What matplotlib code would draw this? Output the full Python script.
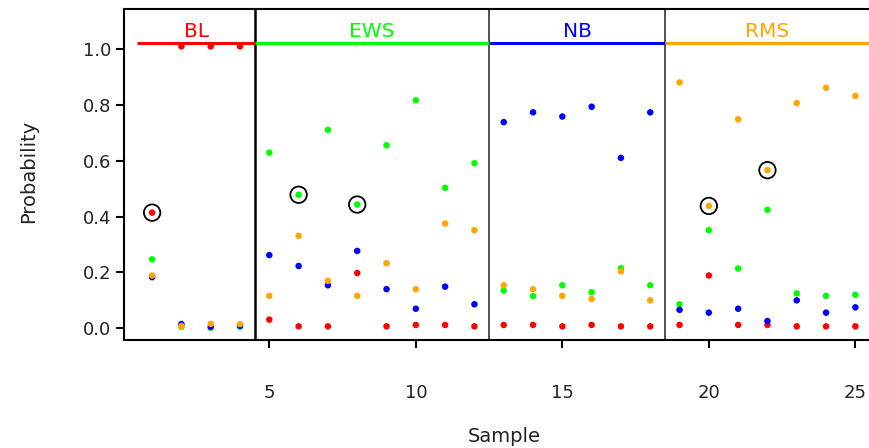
import numpy as np
import matplotlib.pyplot as plt

plt.rcParams['font.family'] = ['DejaVu Sans']

# samples and class probabilities
samples = np.arange(1, 26)
p_bl = [0.414, 1.009, 1.009, 1.009, 0.031, 0.007, 0.007, 0.198, 0.007, 0.012, 0.012, 0.007,
        0.012, 0.012, 0.007, 0.012, 0.007, 0.007, 0.012, 0.189, 0.012, 0.012, 0.007, 0.007, 0.007]
p_ews = [0.247, 0.005, 0.002, 0.005, 0.629, 0.478, 0.710, 0.443, 0.655, 0.816, 0.503, 0.591,
         0.135, 0.115, 0.154, 0.129, 0.215, 0.154, 0.086, 0.351, 0.214, 0.424, 0.125, 0.116, 0.120]
p_nb = [0.183, 0.015, 0.005, 0.009, 0.262, 0.223, 0.154, 0.277, 0.140, 0.070, 0.149, 0.086,
        0.738, 0.773, 0.758, 0.793, 0.610, 0.773, 0.066, 0.056, 0.070, 0.026, 0.100, 0.056, 0.075]
p_rms = [0.189, 0.008, 0.016, 0.015, 0.116, 0.331, 0.170, 0.116, 0.233, 0.140, 0.375, 0.351,
         0.154, 0.140, 0.116, 0.105, 0.204, 0.100, 0.880, 0.438, 0.748, 0.566, 0.806, 0.861, 0.832]

# groups: name, first sample, last sample, colour
group_names = ['BL', 'EWS', 'NB', 'RMS']
group_start = [1, 5, 13, 19]
group_end = [4, 12, 18, 25]
group_colors = ['#FF0000', '#00FF00', '#0000FF', '#FFA500']

# circled points (sample, group index)
circled = [(1, 0), (6, 1), (8, 1), (20, 3), (22, 3)]

probs = [p_bl, p_ews, p_nb, p_rms]

fig = plt.figure(figsize=(8.7, 4.48), dpi=100)
ax = fig.add_axes([0.1425, 0.241, 0.873, 0.739])

# group separators
for i in range(1, len(group_start)):
    xs = group_start[i] - 0.5
    if i == 1:
        ax.axvline(xs, color='black', lw=1.8, zorder=1)
    else:
        ax.axvline(xs, color='#333333', lw=1.2, zorder=1)

# group header lines and labels
for name, s, e, c in zip(group_names, group_start, group_end, group_colors):
    ax.plot([s - 0.5, e + 0.5], [1.02, 1.02], color=c, lw=2.2, zorder=2, solid_capstyle='butt')
    ax.text((s + e) / 2, 1.063, name, color=c, ha='center', va='center', fontsize=14.5)

# points
for p, c in zip(probs, group_colors):
    ax.scatter(samples, p, s=22, color=c, edgecolors='none', zorder=3)

# circles
for smp, g in circled:
    ax.scatter(smp, probs[g][smp - 1], s=140, facecolors='none', edgecolors='black',
               linewidths=1.3, zorder=4)

ax.set_xlim(0.04, 25.96)
ax.set_ylim(-0.042, 1.143)
ax.set_xticks([5, 10, 15, 20, 25])
ax.set_yticks([0.0, 0.2, 0.4, 0.6, 0.8, 1.0])
ax.set_yticklabels(['0.0', '0.2', '0.4', '0.6', '0.8', '1.0'])
ax.tick_params(axis='x', length=6, width=1.5, pad=26, labelsize=13, labelcolor='#222222')
ax.tick_params(axis='y', length=6, width=1.5, pad=3, labelsize=13, labelcolor='#222222')
for sp in ax.spines.values():
    sp.set_linewidth(1.5)

fig.text(0.033, 0.617, 'Probability', rotation=90, ha='center', va='center', fontsize=14,
         color='#222222')
fig.text(0.58, 0.025, 'Sample', ha='center', va='center', fontsize=14, color='#222222')

plt.savefig('out.png', dpi=100)
